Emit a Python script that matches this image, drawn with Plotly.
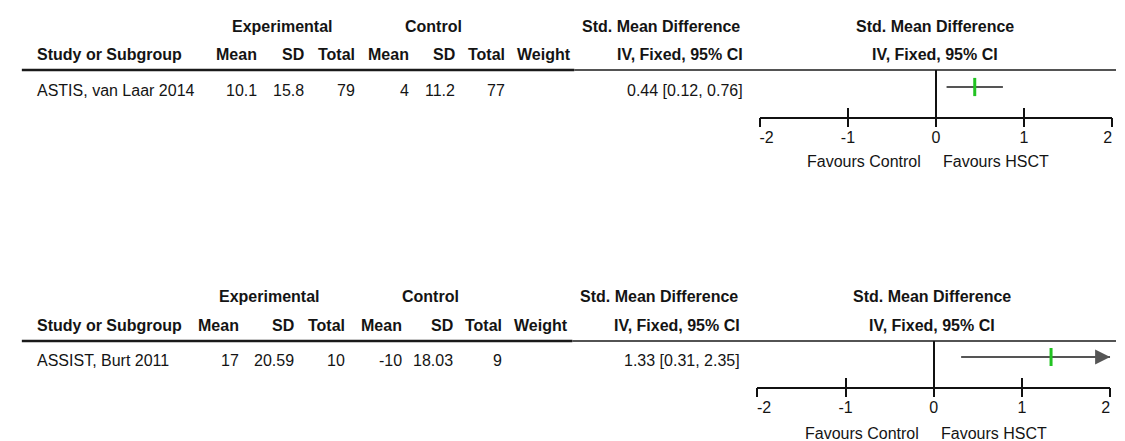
import plotly.graph_objects as go

# ---------------- data ----------------
studies = ["ASTIS, van Laar 2014", "ASSIST, Burt 2011"]
exp_mean = [10.1, 17]
exp_sd = [15.8, 20.59]
exp_total = [79, 10]
ctl_mean = [4, -10]
ctl_sd = [11.2, 18.03]
ctl_total = [77, 9]
smd = [0.44, 1.33]
ci_low = [0.12, 0.31]
ci_high = [0.76, 2.35]
x_ticks = [-2, -1, 0, 1, 2]
x_tick_text = ["\u00a0\u00a0\u00a0-2", "-1", "0", "1", "2\u00a0\u00a0"]
x_range = [-2, 2]
fav_left = "Favours Control"
fav_right = "Favours HSCT"
hdr_group = ["Experimental", "Control", "Std. Mean Difference", "Std. Mean Difference"]
hdr_cols = ["Study or Subgroup", "Mean", "SD", "Total", "Mean", "SD", "Total", "Weight",
            "IV, Fixed, 95% CI", "IV, Fixed, 95% CI"]

# ---------------- layout geometry (reference pixels) ----------------
W, H = 1125, 441
FONT = "Liberation Sans, Arial, sans-serif"
TXT = "#141414"
FS = 16

panels = [
    dict(xl=761.5, xr=1121, top=70, axis=117, ci=87, row=90, h1=26, h2=55, fav=162,
         study=21, cols=[250, 298, 350, 405, 452, 503], weight=571, smd_r=746,
         exp_c=274, ctl_c=428, smd_c=660, plot_c=940, line_l=8, line_mid=572),
    dict(xl=759, xr=1119, top=341, axis=387, ci=357, row=360, h1=296, h2=325, fav=433,
         study=21, cols=[232, 288, 340, 398, 450, 500], weight=568, smd_r=743.5,
         exp_c=260, ctl_c=425, smd_c=658, plot_c=937.5, line_l=8, line_mid=570),
]


def px(x):
    return x / W


def py(y):
    return 1 - y / H


def fmt(v):
    return f"{v:g}"


fig = go.Figure()
annotations = []
shapes = []
layout_axes = {}


def txt(text, x, y, anchor="left", bold=False):
    annotations.append(dict(
        text=f"<b>{text}</b>" if bold else text, x=px(x), y=py(y), xref="paper", yref="paper",
        xanchor=anchor, yanchor="middle", showarrow=False,
        font=dict(family=FONT, size=FS, color=TXT)))


for i, p in enumerate(panels):
    xa = "x" if i == 0 else f"x{2 * i + 1}"
    xo = f"x{2 * i + 2}"
    ya = "y" if i == 0 else f"y{i + 1}"
    xa_key = "xaxis" if i == 0 else f"xaxis{2 * i + 1}"
    xo_key = f"xaxis{2 * i + 2}"
    ya_key = "yaxis" if i == 0 else f"yaxis{i + 1}"

    # headers
    txt(hdr_group[0], p["exp_c"], p["h1"], "center", True)
    txt(hdr_group[1], p["ctl_c"], p["h1"], "center", True)
    txt(hdr_group[2], p["smd_c"], p["h1"], "center", True)
    txt(hdr_group[3], p["plot_c"], p["h1"], "center", True)
    txt(hdr_cols[0], p["study"], p["h2"], "left", True)
    for lab, xr in zip(hdr_cols[1:7], p["cols"]):
        txt(lab, xr, p["h2"], "right", True)
    txt(hdr_cols[7], p["weight"], p["h2"], "right", True)
    txt(hdr_cols[8], p["smd_r"], p["h2"], "right", True)
    txt(hdr_cols[9], p["plot_c"], p["h2"], "center", True)

    # data row
    txt(studies[i], p["study"], p["row"], "left")
    vals = [exp_mean[i], exp_sd[i], exp_total[i], ctl_mean[i], ctl_sd[i], ctl_total[i]]
    for v, xr in zip(vals, p["cols"]):
        txt(fmt(v), xr, p["row"], "right")
    txt(f"{smd[i]:.2f} [{ci_low[i]:.2f}, {ci_high[i]:.2f}]", p["smd_r"], p["row"], "right")

    # header rule
    shapes.append(dict(type="line", xref="paper", yref="paper", x0=px(p["line_l"]),
                       x1=px(p["line_mid"]), y0=py(p["top"]), y1=py(p["top"]),
                       line=dict(color="#1a1a1a", width=2.6)))
    shapes.append(dict(type="line", xref="paper", yref="paper", x0=px(p["line_mid"]),
                       x1=1, y0=py(p["top"]), y1=py(p["top"]),
                       line=dict(color="#1a1a1a", width=1.5)))

    # forest plot axes (y units are pixels, 0 at the CI line)
    dom_x = [px(p["xl"]), px(p["xr"])]
    dom_y = [py(p["axis"]), py(p["top"])]
    layout_axes[xa_key] = dict(domain=dom_x, range=x_range, anchor=ya, showline=True,
                               linecolor="#111", linewidth=2, ticks="inside", ticklen=9,
                               tickwidth=1.5, tickcolor="#111", tickvals=x_ticks,
                               ticktext=x_tick_text, ticklabelstandoff=5,
                               ticklabeloverflow="allow",
                               showgrid=False, zeroline=True, zerolinecolor="#111",
                               zerolinewidth=1.5, fixedrange=True,
                               tickfont=dict(family=FONT, size=FS, color=TXT))
    layout_axes[xo_key] = dict(domain=dom_x, range=x_range, anchor=ya, overlaying=xa,
                               side="bottom", showline=False, ticks="outside", ticklen=9,
                               tickwidth=1.5, tickcolor="#111", tickvals=x_ticks,
                               showticklabels=False, showgrid=False, zeroline=False,
                               fixedrange=True)
    layout_axes[ya_key] = dict(domain=dom_y, range=[-(p["axis"] - p["ci"]), p["ci"] - p["top"]],
                               visible=False, fixedrange=True)

    hi_draw = min(ci_high[i], x_range[1])
    fig.add_trace(go.Scatter(x=[ci_low[i], hi_draw], y=[0, 0], mode="lines",
                             line=dict(color="#555555", width=2), xaxis=xa, yaxis=ya,
                             hoverinfo="skip", showlegend=False, cliponaxis=False))
    fig.add_trace(go.Scatter(x=[smd[i]], y=[0], mode="markers",
                             marker=dict(symbol="line-ns", size=13,
                                         line=dict(color="#22c322", width=3)),
                             xaxis=xa, yaxis=ya, hoverinfo="skip", showlegend=False))
    fig.add_trace(go.Scatter(x=x_ticks, y=[0] * len(x_ticks), mode="markers",
                             marker=dict(opacity=0), xaxis=xo, yaxis=ya,
                             hoverinfo="skip", showlegend=False))
    if ci_high[i] > x_range[1]:
        annotations.append(dict(x=x_range[1], y=0, xref=xa, yref=ya, ax=x_range[1] - 0.1,
                                ay=0, axref=xa, ayref=ya, showarrow=True, arrowhead=2,
                                arrowsize=1.5, arrowwidth=2, arrowcolor="#555555",
                                standoff=0, startstandoff=0, text=""))

    # favours labels
    annotations.append(dict(text=fav_left, x=0, y=py(p["fav"]), xref=xa, yref="paper",
                            xanchor="right", yanchor="middle", xshift=-13, showarrow=False,
                            font=dict(family=FONT, size=FS, color=TXT)))
    annotations.append(dict(text=fav_right, x=0, y=py(p["fav"]), xref=xa, yref="paper",
                            xanchor="left", yanchor="middle", xshift=5, showarrow=False,
                            font=dict(family=FONT, size=FS, color=TXT)))

fig.update_layout(width=W, height=H, margin=dict(l=0, r=0, t=0, b=0),
                  paper_bgcolor="white", plot_bgcolor="white",
                  annotations=annotations, shapes=shapes, showlegend=False,
                  **layout_axes)

fig.write_html("out.html", config={"displayModeBar": False},
               post_script="document.body.style.margin='0';"
                           "document.documentElement.style.overflow='hidden';")
